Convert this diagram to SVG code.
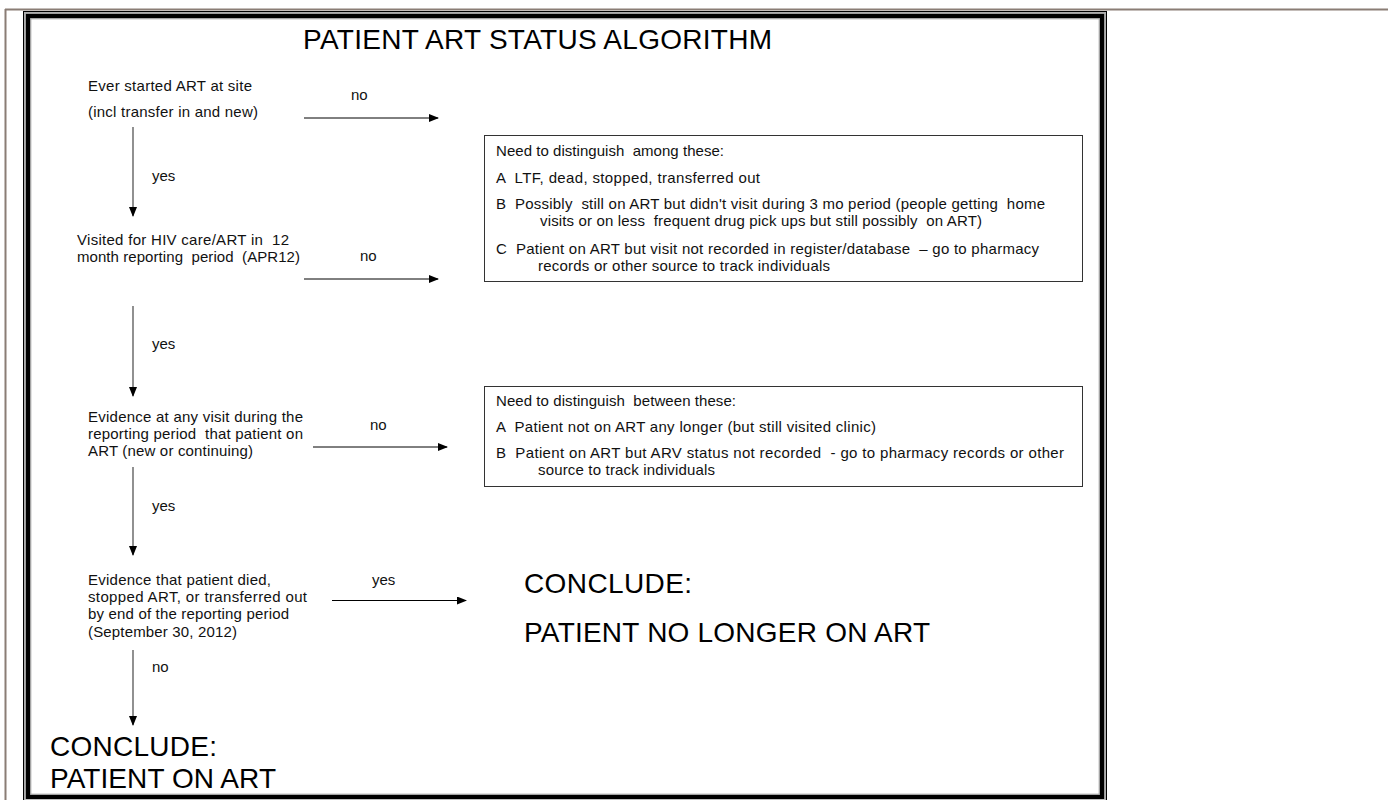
<svg xmlns="http://www.w3.org/2000/svg" width="1388" height="800" viewBox="0 0 1388 800">
<style>
.t{font-family:"Liberation Sans",Arial,sans-serif;font-size:15px;fill:#111;white-space:pre}
.big{font-family:"Liberation Sans",Arial,sans-serif;font-size:28px;fill:#000}
.box{fill:#fff;stroke:#333;stroke-width:1}
.h{stroke:#000;stroke-width:1;fill:none}
.v{stroke:#555;stroke-width:1.3;fill:none}
</style>
<defs>
<marker id="ah" markerWidth="10" markerHeight="8" refX="9" refY="4" orient="auto" markerUnits="userSpaceOnUse">
<path d="M0,0 L10,4 L0,8 Z" fill="#000"/>
</marker>
</defs>
<rect width="1388" height="800" fill="#fff"/>
<g id="frame">
<line x1="5" y1="9.5" x2="1388" y2="9.5" stroke="#8a7d75" stroke-width="2"/>
<line x1="5.5" y1="9" x2="5.5" y2="800" stroke="#8a7d75" stroke-width="2"/>
<rect x="23.5" y="11.5" width="1083" height="800" fill="none" stroke="#000" stroke-width="1"/>
<rect x="24.8" y="12.8" width="1080.4" height="800" fill="none" stroke="#aaa" stroke-width="1.5"/>
<rect x="28" y="16" width="1074" height="781" fill="none" stroke="#000" stroke-width="4.5"/>
<rect x="30.8" y="18.8" width="1068.4" height="775.4" fill="none" stroke="#999" stroke-width="1"/>
</g>
<text class="big" x="303" y="49" font-size="27" textLength="469">PATIENT ART STATUS ALGORITHM</text>
<g id="n1">
<text class="t" x="88" y="91" textLength="164">Ever started ART at site</text>
<text class="t" x="88" y="117" textLength="170">(incl transfer in and new)</text>
</g>
<g id="n2">
<text class="t" x="77" y="245" textLength="212">Visited for HIV care/ART in  12</text>
<text class="t" x="77" y="262" textLength="223">month reporting  period  (APR12)</text>
</g>
<g id="n3">
<text class="t" x="88" y="422" textLength="215">Evidence at any visit during the</text>
<text class="t" x="88" y="439" textLength="215">reporting period  that patient on</text>
<text class="t" x="88" y="456" textLength="165">ART (new or continuing)</text>
</g>
<g id="n4">
<text class="t" x="88" y="585" textLength="183">Evidence that patient died,</text>
<text class="t" x="88" y="602" textLength="219">stopped ART, or transferred out</text>
<text class="t" x="88" y="619" textLength="201">by end of the reporting period</text>
<text class="t" x="88" y="637" textLength="149">(September 30, 2012)</text>
</g>
<g id="box1">
<rect class="box" x="484.5" y="135.5" width="598" height="146"/>
<text class="t" x="496" y="156" textLength="228">Need to distinguish  among these:</text>
<text class="t" x="496" y="183" textLength="264">A  LTF, dead, stopped, transferred out</text>
<text class="t" x="496" y="209" textLength="549">B  Possibly  still on ART but didn't visit during 3 mo period (people getting  home</text>
<text class="t" x="540" y="226" textLength="442">visits or on less  frequent drug pick ups but still possibly  on ART)</text>
<text class="t" x="496" y="254" textLength="543">C  Patient on ART but visit not recorded in register/database  – go to pharmacy</text>
<text class="t" x="538" y="271" textLength="292">records or other source to track individuals</text>
</g>
<g id="box2">
<rect class="box" x="484.5" y="386.5" width="598" height="100"/>
<text class="t" x="496" y="406" textLength="240">Need to distinguish  between these:</text>
<text class="t" x="496" y="432" textLength="380">A  Patient not on ART any longer (but still visited clinic)</text>
<text class="t" x="496" y="458" textLength="568">B  Patient on ART but ARV status not recorded  - go to pharmacy records or other</text>
<text class="t" x="538" y="475" textLength="177">source to track individuals</text>
</g>
<g id="conclude-no">
<text class="big" x="524" y="593" textLength="168">CONCLUDE:</text>
<text class="big" x="524" y="642" textLength="406">PATIENT NO LONGER ON ART</text>
</g>
<g id="conclude-on">
<text class="big" x="50" y="756" textLength="167">CONCLUDE:</text>
<text class="big" x="50" y="788" textLength="226">PATIENT ON ART</text>
</g>
<g id="connectors">
<line class="h" x1="304" y1="118" x2="438" y2="118" marker-end="url(#ah)"/>
<line class="h" x1="304" y1="279" x2="438" y2="279" marker-end="url(#ah)"/>
<line class="h" x1="313" y1="447" x2="447" y2="447" marker-end="url(#ah)"/>
<line class="h" x1="332" y1="600.5" x2="466" y2="600.5" marker-end="url(#ah)"/>
<line class="v" x1="133" y1="127" x2="133" y2="216" marker-end="url(#ah)"/>
<line class="v" x1="133" y1="306" x2="133" y2="396" marker-end="url(#ah)"/>
<line class="v" x1="133" y1="467" x2="133" y2="555" marker-end="url(#ah)"/>
<line class="v" x1="133" y1="650" x2="133" y2="725" marker-end="url(#ah)"/>
<text class="t" x="351" y="100">no</text>
<text class="t" x="360" y="261">no</text>
<text class="t" x="370" y="430">no</text>
<text class="t" x="372" y="585">yes</text>
<text class="t" x="152" y="181">yes</text>
<text class="t" x="152" y="349">yes</text>
<text class="t" x="152" y="511">yes</text>
<text class="t" x="152" y="672">no</text>
</g>
</svg>
